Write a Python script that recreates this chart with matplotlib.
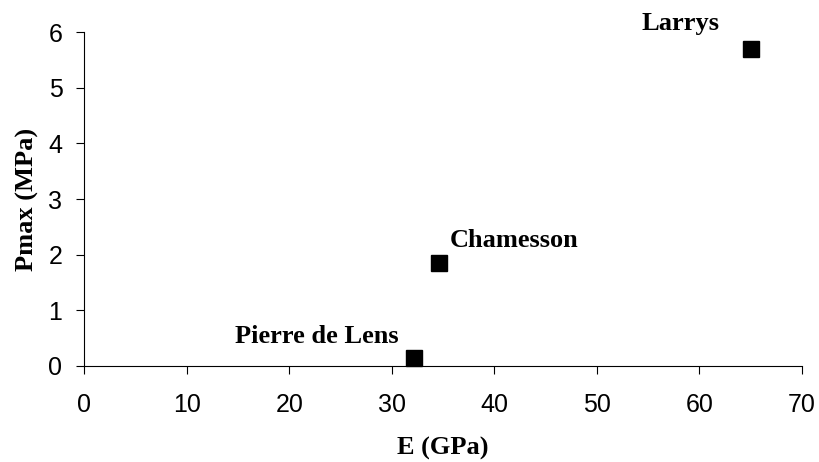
import numpy as np
import matplotlib
matplotlib.use('Agg')
import matplotlib.pyplot as plt

#----------------------------------------------------------
stones=['Larrys','Chamesson','Pierre de Lens']
E_gpa=[65.0,34.6,32.2]
pmax_mpa=[5.70,1.85,0.14]

xticks=[0,10,20,30,40,50,60,70]
yticks=[0,1,2,3,4,5,6]

#----------------------------------------------------------
def f_00():
	fig=plt.figure(figsize=(8.19,4.62),dpi=100)
	ax=fig.add_axes([0.103,0.2084,0.876,0.7216])

	#frame customization
	ax.spines['right'].set_color('none')
	ax.spines['top'].set_color('none')
	ax.spines['left'].set_linewidth(0.8)
	ax.spines['bottom'].set_linewidth(0.8)
	ax.tick_params(axis='x',direction='out',length=5.8,width=0.8,
			labelsize=18,pad=14)
	ax.tick_params(axis='y',direction='out',length=5.8,width=0.8,
			labelsize=18,pad=10)

	ax.plot(E_gpa,pmax_mpa,'s',color='black',markersize=11.5,clip_on=False)

	# label offsets in pixels (dx, dy) from each point
	offs=[(-109,19),(11,16),(-179,15)]
	for name,x,y,(dx,dy) in zip(stones,E_gpa,pmax_mpa,offs):
		ax.annotate(name,(x,y),xytext=(dx,dy),textcoords='offset pixels',
			ha='left',va='baseline',fontsize=19,fontweight='bold',
			family='Liberation Serif')

	ax.set_xlim(0,70)
	ax.set_ylim(0,6)
	ax.set_xticks(xticks)
	ax.set_yticks(yticks)
	for lab in ax.get_xticklabels()+ax.get_yticklabels():
		lab.set_family('Liberation Sans')

	ax.set_xlabel('E (GPa)',fontsize=19,fontweight='bold',family='Liberation Serif',labelpad=14)
	ax.set_ylabel('Pmax (MPa)',fontsize=19,fontweight='bold',family='Liberation Serif',labelpad=7)

	fig.savefig('out.png',dpi=100)
#----------------------------------------------------------
if __name__=='__main__':
	f_00()
